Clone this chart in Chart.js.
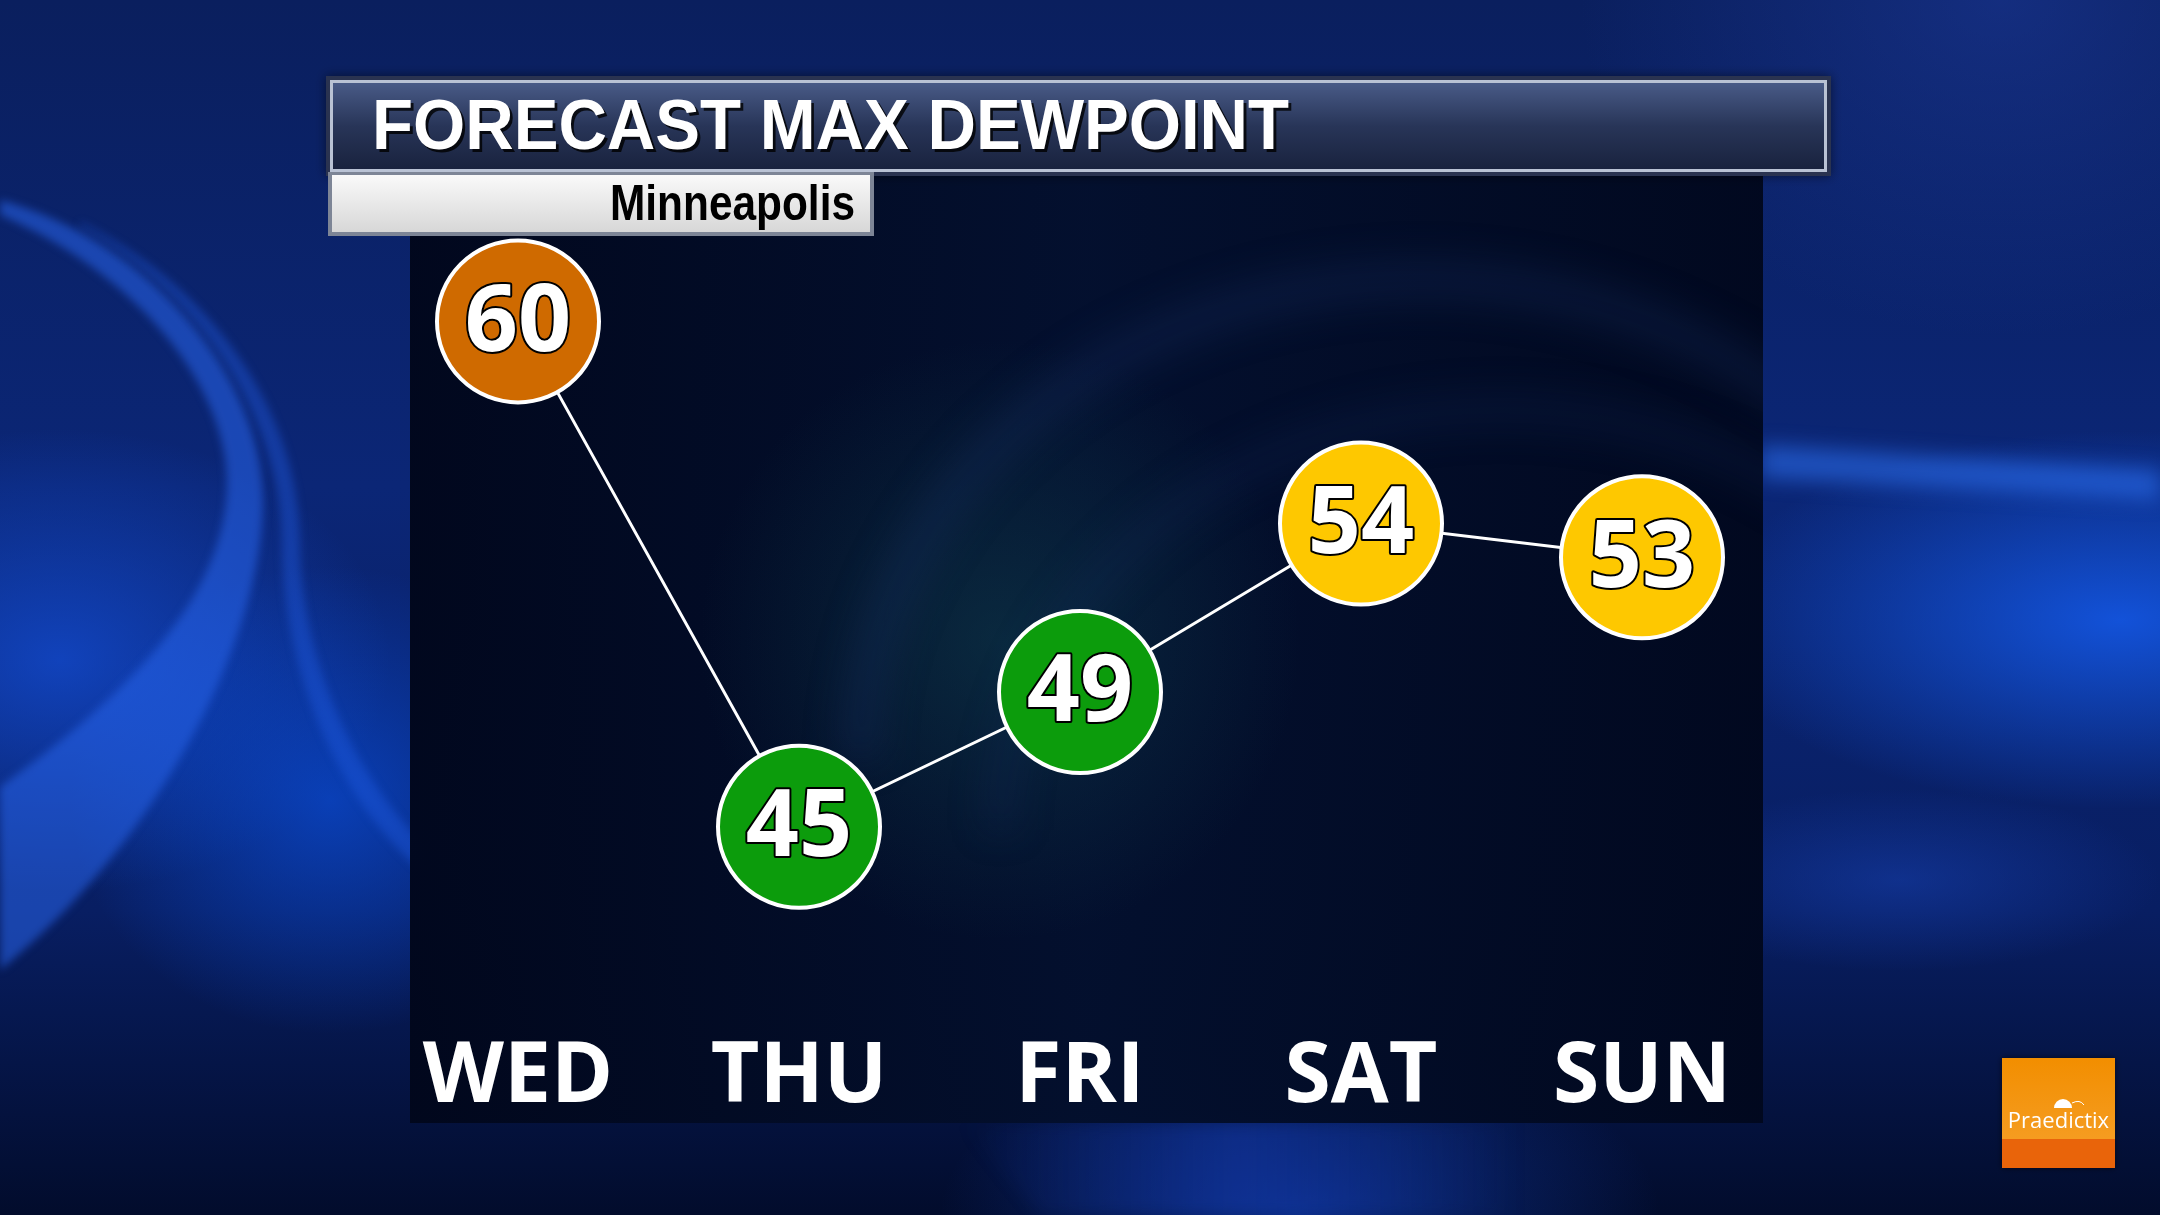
<!DOCTYPE html>
<html><head><meta charset="utf-8">
<script src="https://cdn.jsdelivr.net/npm/chart.js@4.4.0/dist/chart.umd.min.js"></script>
<style>html,body{margin:0;padding:0;background:#0a2270;overflow:hidden}canvas{display:block}</style>
</head><body>
<canvas id="c" width="2160" height="1215"></canvas>
<script>
const days = ['WED', 'THU', 'FRI', 'SAT', 'SUN'];
const dewpoints = [60, 45, 49, 54, 53];
const titleText = 'FORECAST MAX DEWPOINT';
const locationText = 'Minneapolis';
const logoText = 'Praedictix';
const yMin = 40, yMax = 62;

function dewColor(v) {
  if (v >= 60) return '#cf6a00';
  if (v >= 50) return '#fec800';
  return '#0c9c0c';
}

function glow(ctx, x, y, r, color, a, sy) {
  ctx.save();
  ctx.translate(x, y); ctx.scale(1, sy || 1);
  const g = ctx.createRadialGradient(0, 0, 0, 0, 0, r);
  g.addColorStop(0, 'rgba(' + color + ',' + a + ')');
  g.addColorStop(1, 'rgba(' + color + ',0)');
  ctx.fillStyle = g; ctx.fillRect(-r, -r, 2 * r, 2 * r);
  ctx.restore();
}

function drawBackground(ctx, W, H) {
  let g = ctx.createLinearGradient(0, 0, 0, H);
  g.addColorStop(0, '#0a1f5e');
  g.addColorStop(0.4, '#0b2676');
  g.addColorStop(0.75, '#081e62');
  g.addColorStop(1, '#020c2c');
  ctx.fillStyle = g; ctx.fillRect(0, 0, W, H);

  glow(ctx, 60, 660, 330, '20,80,220', 0.7, 0.7);
  glow(ctx, 330, 800, 260, '10,80,225', 0.65, 0.9);
  glow(ctx, 2120, 620, 420, '20,90,235', 0.85, 0.45);
  glow(ctx, 2000, 0, 420, '30,60,160', 0.5, 0.8);
  glow(ctx, 1300, 1215, 360, '20,70,200', 0.55, 0.5);
  glow(ctx, 1900, 880, 260, '25,70,190', 0.45, 0.35);

  ctx.save();
  ctx.filter = 'blur(10px)';
  ctx.fillStyle = 'rgba(45,115,245,0.55)';
  ctx.beginPath();
  ctx.moveTo(1760, 445); ctx.lineTo(2160, 470); ctx.lineTo(2160, 500); ctx.lineTo(1760, 478); ctx.closePath(); ctx.fill();
  ctx.restore();

  ctx.save();
  ctx.filter = 'blur(4px)';
  ctx.fillStyle = 'rgba(40,100,235,0.55)';
  ctx.beginPath();
  ctx.moveTo(0, 200);
  ctx.bezierCurveTo(150, 240, 265, 380, 263, 504);
  ctx.bezierCurveTo(260, 650, 150, 850, 0, 970);
  ctx.lineTo(0, 787);
  ctx.bezierCurveTo(120, 700, 228, 600, 227, 480);
  ctx.bezierCurveTo(225, 380, 130, 270, 0, 215);
  ctx.closePath(); ctx.fill();
  ctx.fillStyle = 'rgba(35,95,235,0.38)';
  ctx.beginPath();
  ctx.moveTo(80, 222);
  ctx.bezierCurveTo(220, 290, 300, 420, 300, 543);
  ctx.bezierCurveTo(300, 650, 350, 770, 420, 840);
  ctx.lineTo(420, 870);
  ctx.bezierCurveTo(330, 790, 282, 660, 282, 543);
  ctx.bezierCurveTo(282, 430, 210, 300, 80, 226);
  ctx.closePath(); ctx.fill();
  ctx.restore();

  ctx.save();
  ctx.filter = 'blur(8px)';
  g = ctx.createLinearGradient(960, 0, 1520, 0);
  g.addColorStop(0, 'rgba(20,60,180,0)');
  g.addColorStop(0.5, 'rgba(20,60,180,0.45)');
  g.addColorStop(1, 'rgba(20,60,180,0)');
  ctx.fillStyle = g;
  ctx.beginPath(); ctx.moveTo(960, 1123); ctx.lineTo(1520, 1123); ctx.lineTo(1600, 1215); ctx.lineTo(1040, 1215); ctx.closePath(); ctx.fill();
  ctx.restore();
}

function drawPanel(ctx) {
  const x = 410, y = 176, w = 1353, h = 947;
  let g = ctx.createLinearGradient(x, 0, x + w, 0);
  g.addColorStop(0, 'rgba(1,7,28,0.98)');
  g.addColorStop(0.5, 'rgba(3,15,44,0.96)');
  g.addColorStop(1, 'rgba(1,8,30,0.98)');
  ctx.fillStyle = g; ctx.fillRect(x, y, w, h);
  ctx.save();
  ctx.beginPath(); ctx.rect(x, y, w, h); ctx.clip();
  glow(ctx, 1000, 640, 300, '20,80,90', 0.4, 1);
  ctx.filter = 'blur(18px)';
  ctx.strokeStyle = 'rgba(25,50,105,0.28)'; ctx.lineWidth = 40;
  ctx.beginPath(); ctx.ellipse(1420, 760, 560, 480, 0, Math.PI * 1.0, Math.PI * 1.9); ctx.stroke();
  ctx.strokeStyle = 'rgba(20,45,95,0.25)'; ctx.lineWidth = 30;
  ctx.beginPath(); ctx.ellipse(1500, 830, 500, 420, 0, Math.PI * 1.0, Math.PI * 1.85); ctx.stroke();
  ctx.restore();
}

function drawTitle(ctx) {
  ctx.save();
  ctx.shadowColor = 'rgba(0,0,0,0.5)'; ctx.shadowBlur = 10;
  ctx.fillStyle = '#2a3350'; ctx.fillRect(326, 76, 1505, 100);
  ctx.restore();
  let g = ctx.createLinearGradient(0, 80, 0, 172);
  g.addColorStop(0, '#4b5d8a'); g.addColorStop(0.5, '#283558'); g.addColorStop(1, '#18213c');
  ctx.fillStyle = g; ctx.fillRect(330, 80, 1497, 92);
  ctx.strokeStyle = '#b9c2d4'; ctx.lineWidth = 3; ctx.strokeRect(331.5, 81.5, 1494, 89);
  ctx.save();
  ctx.font = 'bold 70px "Liberation Sans", Arial, sans-serif';
  const tw = ctx.measureText(titleText).width;
  ctx.translate(372, 149); ctx.scale(917 / tw, 1);
  ctx.fillStyle = 'rgba(0,0,0,0.8)'; ctx.fillText(titleText, 3, 3);
  ctx.fillStyle = '#ffffff'; ctx.fillText(titleText, 0, 0);
  ctx.restore();
  g = ctx.createLinearGradient(0, 174, 0, 234);
  g.addColorStop(0, '#fafafa'); g.addColorStop(1, '#d6d6d6');
  ctx.fillStyle = '#7d8596'; ctx.fillRect(328, 172, 546, 64);
  ctx.fillStyle = g; ctx.fillRect(332, 175, 538, 57);
  ctx.save();
  ctx.font = 'bold 50px "Liberation Sans", Arial, sans-serif';
  const lw = ctx.measureText(locationText).width;
  ctx.translate(855, 220); ctx.scale(245 / lw, 1);
  ctx.textAlign = 'right'; ctx.fillStyle = '#000000';
  ctx.fillText(locationText, 0, 0);
  ctx.restore();
}

function drawLogo(ctx) {
  const x = 2002, y = 1058, w = 113, h = 110;
  ctx.save();
  ctx.shadowColor = 'rgba(0,0,0,0.6)'; ctx.shadowBlur = 6;
  ctx.fillStyle = '#f39200'; ctx.fillRect(x, y, w, h);
  ctx.restore();
  let g = ctx.createLinearGradient(0, y, 0, y + 80);
  g.addColorStop(0, '#f28e00'); g.addColorStop(1, '#f59c20');
  ctx.fillStyle = g; ctx.fillRect(x, y, w, 81);
  ctx.fillStyle = '#e9640a'; ctx.fillRect(x, y + 81, w, h - 81);
  ctx.fillStyle = '#ffffff';
  ctx.font = '22px "Open Sans", sans-serif';
  ctx.textAlign = 'center'; ctx.textBaseline = 'alphabetic';
  ctx.fillText(logoText, x + w / 2, y + 70);
  ctx.beginPath(); ctx.arc(x + 61, y + 50, 9, Math.PI, 0); ctx.closePath(); ctx.fill();
  ctx.strokeStyle = '#ffffff'; ctx.lineWidth = 1;
  ctx.beginPath(); ctx.moveTo(x + 70, y + 45); ctx.quadraticCurveTo(x + 78, y + 41, x + 82, y + 47); ctx.stroke();
}

const bgPlugin = {
  id: 'bg',
  beforeDraw(chart) {
    const ctx = chart.ctx;
    ctx.save();
    drawBackground(ctx, chart.width, chart.height);
    drawPanel(ctx);
    drawTitle(ctx);
    drawLogo(ctx);
    ctx.restore();
  }
};

const valuePlugin = {
  id: 'values',
  afterDatasetsDraw(chart) {
    const ctx = chart.ctx;
    const meta = chart.getDatasetMeta(0);
    ctx.save();
    ctx.font = 'bold 93px "Open Sans", sans-serif';
    ctx.textAlign = 'center'; ctx.textBaseline = 'middle';
    ctx.lineJoin = 'round';
    meta.data.forEach((pt, i) => {
      const t = String(chart.data.datasets[0].data[i]);
      ctx.lineWidth = 4; ctx.strokeStyle = '#000000';
      ctx.strokeText(t, pt.x, pt.y + 3);
      ctx.fillStyle = '#ffffff';
      ctx.fillText(t, pt.x, pt.y + 3);
    });
    ctx.restore();
  }
};

new Chart(document.getElementById('c'), {
  type: 'line',
  data: {
    labels: days,
    datasets: [{
      data: dewpoints,
      borderColor: '#ffffff',
      borderWidth: 3,
      tension: 0,
      fill: false,
      clip: false,
      pointRadius: 81,
      pointHoverRadius: 81,
      pointBackgroundColor: dewpoints.map(dewColor),
      pointBorderColor: '#ffffff',
      pointBorderWidth: 4
    }]
  },
  options: {
    responsive: false,
    animation: false,
    devicePixelRatio: 1,
    events: [],
    layout: { padding: { left: 518, right: 518, top: 254, bottom: 55 } },
    plugins: { legend: { display: false }, tooltip: { enabled: false } },
    scales: {
      x: {
        offset: false,
        grid: { display: false, drawTicks: false },
        border: { display: false },
        ticks: {
          color: '#ffffff',
          font: { family: '"Open Sans", sans-serif', weight: 'bold', size: 84 },
          padding: 32,
          autoSkip: false,
          maxRotation: 0
        }
      },
      y: { display: false, min: yMin, max: yMax }
    }
  },
  plugins: [bgPlugin, valuePlugin]
});
</script>
</body></html>
